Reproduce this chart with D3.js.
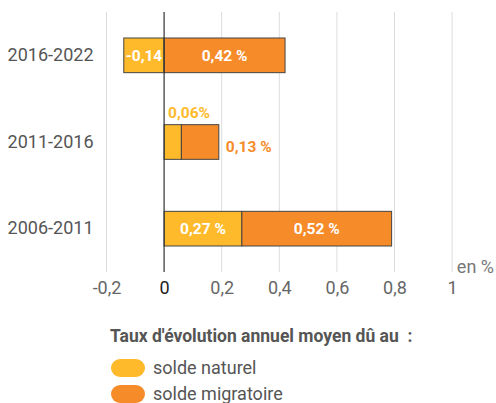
<!DOCTYPE html>
<html>
<head>
<meta charset="utf-8">
<script src="https://cdn.jsdelivr.net/npm/d3@7"></script>
<style>
  body { margin: 0; background: #fff; }
  text { font-family: Roboto, "Noto Sans", sans-serif; }
</style>
</head>
<body>
<div id="chart"></div>
<script>
// data
const periods = ["2016-2022", "2011-2016", "2006-2011"];
const soldeNaturel = [-0.14, 0.06, 0.27];
const soldeMigratoire = [0.42, 0.13, 0.52];
const naturelLabels = ["-0,14", "0,06%", "0,27 %"];
const migratoireLabels = ["0,42 %", "0,13 %", "0,52 %"];
const xTicks = [-0.2, 0, 0.2, 0.4, 0.6, 0.8, 1];
const legendNames = ["solde naturel", "solde migratoire"];
const colors = ["#ffba2b", "#f68b2a"];

const W = 496, H = 403;
const margin = {top: 12, left: 106.5, right: 44, bottom: 131};
const width = W - margin.left - margin.right,
      height = H - margin.top - margin.bottom;

const svg = d3.select("#chart").append("svg")
  .attr("width", W).attr("height", H);
const g = svg.append("g")
  .attr("transform", `translate(${margin.left},${margin.top})`);

const x = d3.scaleLinear().domain([-0.2, 1]).range([0, 345.6]);
const y = d3.scaleBand().domain(periods).range([0, height])
  .paddingInner(0.6).paddingOuter(0.3);

// grid
g.selectAll("line.grid").data(xTicks.filter(d => d !== 0)).join("line")
  .attr("class", "grid")
  .attr("x1", d => x(d)).attr("x2", d => x(d))
  .attr("y1", 0).attr("y2", height)
  .attr("stroke", "#dcdcdc").attr("stroke-width", 1);

// x axis labels
const xAxis = d3.axisBottom(x).tickValues(xTicks).tickSize(0).tickPadding(9)
  .tickFormat(d => d3.format("")(d).replace(".", ",").replace("−", "-"));
const ax = g.append("g").attr("transform", `translate(0,${height})`).call(xAxis);
ax.select(".domain").remove();
ax.selectAll("text")
  .attr("font-size", 18).attr("fill", d => d === 0 ? "#222" : "#666")
  .style("font-family", "Roboto, sans-serif");

// y labels
const yAxis = d3.axisLeft(y).tickSize(0).tickPadding(13);
const ay = g.append("g").call(yAxis);
ay.select(".domain").remove();
ay.selectAll("text").attr("font-size", 18).attr("fill", "#555")
  .style("font-family", "Roboto, sans-serif");

// rows
const rows = periods.map((p, i) => {
  const n = soldeNaturel[i], m = soldeMigratoire[i];
  const mStart = n > 0 ? n : 0;
  return {p, n, m, mStart, nl: naturelLabels[i], ml: migratoireLabels[i]};
});

g.selectAll("rect.nat").data(rows).join("rect")
  .attr("class", "nat")
  .attr("x", d => x(Math.min(0, d.n)))
  .attr("width", d => Math.abs(x(d.n) - x(0)))
  .attr("y", d => y(d.p)).attr("height", y.bandwidth())
  .attr("fill", colors[0]).attr("stroke", "#444").attr("stroke-width", 1);

g.selectAll("rect.mig").data(rows).join("rect")
  .attr("class", "mig")
  .attr("x", d => x(d.mStart))
  .attr("width", d => x(d.mStart + d.m) - x(d.mStart))
  .attr("y", d => y(d.p)).attr("height", y.bandwidth())
  .attr("fill", colors[1]).attr("stroke", "#444").attr("stroke-width", 1);

// zero line
g.append("line")
  .attr("x1", x(0)).attr("x2", x(0)).attr("y1", 0).attr("y2", height)
  .attr("stroke", "#333").attr("stroke-width", 1.2);

// value labels
const small = d => Math.abs(x(d.n) - x(0)) < 25;
g.selectAll("text.nl").data(rows).join("text")
  .attr("class", "nl")
  .attr("x", d => small(d) && d.n > 0 ? x(0) + 4 : (x(0) + x(d.n)) / 2)
  .attr("y", d => small(d) && d.n > 0 ? y(d.p) - 12 : y(d.p) + y.bandwidth() / 2)
  .attr("dy", "0.35em")
  .attr("text-anchor", d => small(d) && d.n > 0 ? "start" : "middle")
  .attr("font-size", 15.5).attr("font-weight", "bold")
  .attr("fill", d => small(d) && d.n > 0 ? colors[0] : "#fff")
  .text(d => d.nl);

const smallM = d => x(d.mStart + d.m) - x(d.mStart) < 45;
g.selectAll("text.ml").data(rows).join("text")
  .attr("class", "ml")
  .attr("x", d => smallM(d) ? x(d.mStart + d.m) + 7 : (x(d.mStart) + x(d.mStart + d.m)) / 2)
  .attr("y", d => smallM(d) ? y(d.p) + y.bandwidth() / 2 + 5 : y(d.p) + y.bandwidth() / 2)
  .attr("dy", "0.35em")
  .attr("text-anchor", d => smallM(d) ? "start" : "middle")
  .attr("font-size", 15.5).attr("font-weight", "bold")
  .attr("fill", d => smallM(d) ? colors[1] : "#fff")
  .text(d => d.ml);

// unit
svg.append("text").attr("x", 494).attr("y", 273).attr("text-anchor", "end")
  .attr("font-size", 18).attr("fill", "#777").text("en %");

// legend
svg.append("text").attr("x", 110).attr("y", 342)
  .attr("font-size", 17.5).attr("font-weight", "bold").attr("fill", "#555")
  .text("Taux d'évolution annuel moyen dû au  :").style("white-space", "pre");

const lg = svg.selectAll("g.lg").data(legendNames).join("g")
  .attr("class", "lg")
  .attr("transform", (d, i) => `translate(111,${359 + i * 26})`);
lg.append("rect").attr("width", 34).attr("height", 18).attr("rx", 9)
  .attr("fill", (d, i) => colors[i]);
lg.append("text").attr("x", 42).attr("y", 9).attr("dy", "0.35em")
  .attr("font-size", 18).attr("fill", "#555").text(d => d);
</script>
</body>
</html>
